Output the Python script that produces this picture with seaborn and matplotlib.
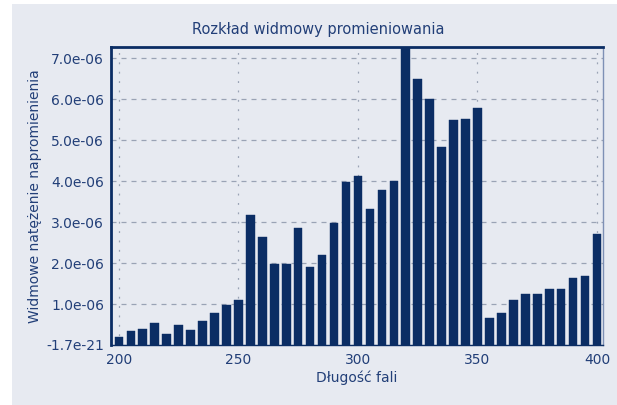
import matplotlib
matplotlib.use("Agg")
import matplotlib.pyplot as plt
import seaborn as sns
import pandas as pd
from matplotlib.patches import Rectangle

# wavelength bins and spectral irradiance
wavelengths = list(range(200, 405, 5))
irradiance = [0.20, 0.33, 0.40, 0.54, 0.27, 0.48, 0.37, 0.59, 0.77, 0.97,
              1.10, 3.17, 2.64, 1.98, 1.98, 2.86, 1.91, 2.20, 2.98, 3.98,
              4.13, 3.33, 3.78, 4.01, 7.40, 6.48, 5.99, 4.82, 5.49, 5.52,
              5.77, 0.65, 0.79, 1.10, 1.24, 1.24, 1.36, 1.36, 1.64, 1.68,
              2.72]
irradiance = [v * 1e-6 for v in irradiance]

y_ticks = [0.0, 1e-6, 2e-6, 3e-6, 4e-6, 5e-6, 6e-6, 7e-6]
y_tick_labels = ["-1.7e-21", "1.0e-06", "2.0e-06", "3.0e-06",
                 "4.0e-06", "5.0e-06", "6.0e-06", "7.0e-06"]
x_ticks = [200, 250, 300, 350, 400]

df = pd.DataFrame({"wl": wavelengths, "val": irradiance})

bg = "#E7EAF1"
navy = "#0B2D64"
text_col = "#223F78"

sns.set_style("white")
fig = plt.figure(figsize=(6.17, 4.05), dpi=100, facecolor="white")
fig.patches.append(Rectangle((12 / 617, 0), 1, 1 - 4 / 405, transform=fig.transFigure,
                             facecolor=bg, edgecolor="none", zorder=-10))
ax = fig.add_axes([111 / 617, 60 / 405, 492 / 617, 298 / 405])
ax.set_facecolor(bg)

sns.barplot(data=df, x="wl", y="val", native_scale=True, color=navy,
            saturation=1, width=0.72, edgecolor=navy, linewidth=0.3, ax=ax, zorder=3)

ax.set_xlim(196.7, 402.5)
ax.set_ylim(0, 7.27e-6)
ax.set_xticks(x_ticks)
ax.set_xticklabels([str(t) for t in x_ticks])
ax.set_yticks(y_ticks)
ax.set_yticklabels(y_tick_labels)

ax.grid(True, axis="y", linestyle=(0, (4, 4)), color="#9AA3B5", linewidth=0.9, zorder=0)
ax.grid(True, axis="x", linestyle=(0, (1.5, 6)), color="#9AA3B5", linewidth=0.9, zorder=0)
ax.set_axisbelow(True)

for side, sp in ax.spines.items():
    sp.set_color(navy)
    sp.set_linewidth(1.0)
ax.spines["left"].set_linewidth(2.0)
ax.spines["top"].set_linewidth(2.0)
ax.spines["right"].set_color("#7E90B5")

ax.tick_params(axis="both", colors=text_col, labelsize=10, length=3, width=0.8,
               direction="out", labelcolor=text_col)
ax.tick_params(axis="x", pad=3)
ax.tick_params(axis="y", pad=2)

ax.set_xlabel("Długość fali", color=text_col, fontsize=10, labelpad=2)
ax.set_ylabel("Widmowe natężenie napromienienia", color=text_col, fontsize=10, labelpad=3)
fig.text(0.515, 0.926, "Rozkład widmowy promieniowania", color=text_col,
         fontsize=10.5, ha="center", va="center")

fig.savefig("out.png", dpi=100, facecolor=fig.get_facecolor())
